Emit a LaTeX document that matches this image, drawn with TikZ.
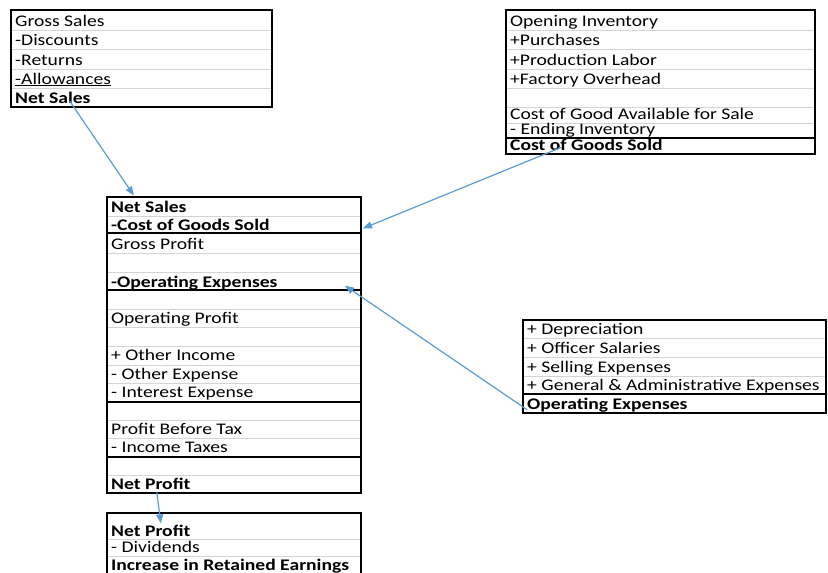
\documentclass[tikz,border=0pt]{standalone}
\usepackage{fontspec}
\setmainfont{Carlito}[FakeStretch=1.21]
\usepackage{tikz}
\usetikzlibrary{arrows.meta}
\usepackage{xcolor}
\definecolor{linkblue}{HTML}{5B9BD5}
\definecolor{cellgray}{HTML}{D4D4D4}

\begin{document}
\begin{tikzpicture}[x=1pt, y=-1pt,
		row/.style={anchor=base west, inner sep=0pt, font=\fontsize{16.2}{18}\selectfont},
		grid/.style={cellgray, line width=0.8pt},
		frame/.style={black, line width=2pt},
		link/.style={linkblue, line width=1.2pt, -{Triangle[length=9pt, width=7pt]}}]
		\useasboundingbox (0,0) rectangle (828,573);
		% sales
		\begin{scope}
			\foreach \y in {30,49,69,88} \draw[grid] (11,\y) -- (272,\y);
			\draw[frame] (11,10) rectangle (272,107);
			\node[row] (grossSales) at (15,26) {Gross Sales};
			\node[row] (discounts) at (15,45) {-Discounts};
			\node[row] (returns) at (15,65) {-Returns};
			\node[row] (allowances) at (15,84) {\underline{-Allowances}};
			\node[row] (netSalesA) at (15,103) {\textbf{Net Sales}};
		\end{scope}
		% cost of goods sold
		\begin{scope}
			\foreach \y in {30,49,69,88,107,123} \draw[grid] (506,\y) -- (815,\y);
			\draw[frame] (506,10) rectangle (815,154);
			\draw[frame] (506,138) -- (815,138);
			\node[row] (openInv) at (510,26) {Opening Inventory};
			\node[row] (purchases) at (510,45) {+Purchases};
			\node[row] (labor) at (510,65) {+Production Labor};
			\node[row] (overhead) at (510,84) {+Factory Overhead};
			\node[row] (available) at (510,119) {Cost of Good Available for Sale};
			\node[row] (endInv) at (510,134.5) {- Ending Inventory};
			\node[row] (cogsA) at (510,150) {\textbf{Cost of Goods Sold}};
		\end{scope}
		% income statement
		\begin{scope}
			\foreach \y in {216,253,272,309,327,346,365,383,420,438,475} \draw[grid] (107,\y) -- (361,\y);
			\draw[frame] (107,197) rectangle (361,493);
			\foreach \y in {233,290,402,457} \draw[frame] (107,\y) -- (361,\y);
			\node[row] (netSalesB) at (111,212) {\textbf{Net Sales}};
			\node[row] (cogsB) at (111,230) {\textbf{-Cost of Goods Sold}};
			\node[row] (grossProfit) at (111,249) {Gross Profit};
			\node[row] (opexB) at (111,287) {\textbf{-Operating Expenses}};
			\node[row] (opProfit) at (111,323) {Operating Profit};
			\node[row] (otherInc) at (111,360) {+ Other Income};
			\node[row] (otherExp) at (111,379) {- Other Expense};
			\node[row] (interest) at (111,397) {- Interest Expense};
			\node[row] (beforeTax) at (111,434) {Profit Before Tax};
			\node[row] (taxes) at (111,452) {- Income Taxes};
			\node[row] (netProfitA) at (111,489) {\textbf{Net Profit}};
		\end{scope}
		% operating expenses
		\begin{scope}
			\foreach \y in {338,357,376} \draw[grid] (523,\y) -- (826,\y);
			\draw[frame] (523,320) rectangle (826,413);
			\draw[frame] (523,394) -- (826,394);
			\node[row] (deprec) at (527,334) {+ Depreciation};
			\node[row] (salaries) at (527,353) {+ Officer Salaries};
			\node[row] (selling) at (527,372) {+ Selling Expenses};
			\node[row] (general) at (527,390) {+ General \& Administrative Expenses};
			\node[row] (opexA) at (527,409) {\textbf{Operating Expenses}};
		\end{scope}
		% retained earnings
		\begin{scope}
			\foreach \y in {539,556} \draw[grid] (107,\y) -- (361,\y);
			\draw[frame] (107,574) -- (107,513) -- (361,513) -- (361,574);
			\node[row] (netProfitB) at (111,536) {\textbf{Net Profit}};
			\node[row] (dividends) at (111,552) {- Dividends};
			\node[row] (retained) at (111,570) {\textbf{Increase in Retained Earnings}};
		\end{scope}
		% links
		\draw[link] ([xshift=17pt, yshift=2pt]netSalesA.south) -- ([xshift=-15pt, yshift=5pt]netSalesB.north);
		\draw[link] ([xshift=-25pt, yshift=3pt]cogsA.south) -- ([xshift=2pt, yshift=-4pt]cogsB.east -| 361,0);
		\draw[link] ([yshift=-5pt]opexA.west) -- ([xshift=-16pt, yshift=-3pt]opexB.east -| 361,0);
		\draw[link] ([xshift=6pt, yshift=-3pt]netProfitA.south) -- ([xshift=10pt, yshift=1pt]netProfitB.north);
	\end{tikzpicture}
\end{document}
